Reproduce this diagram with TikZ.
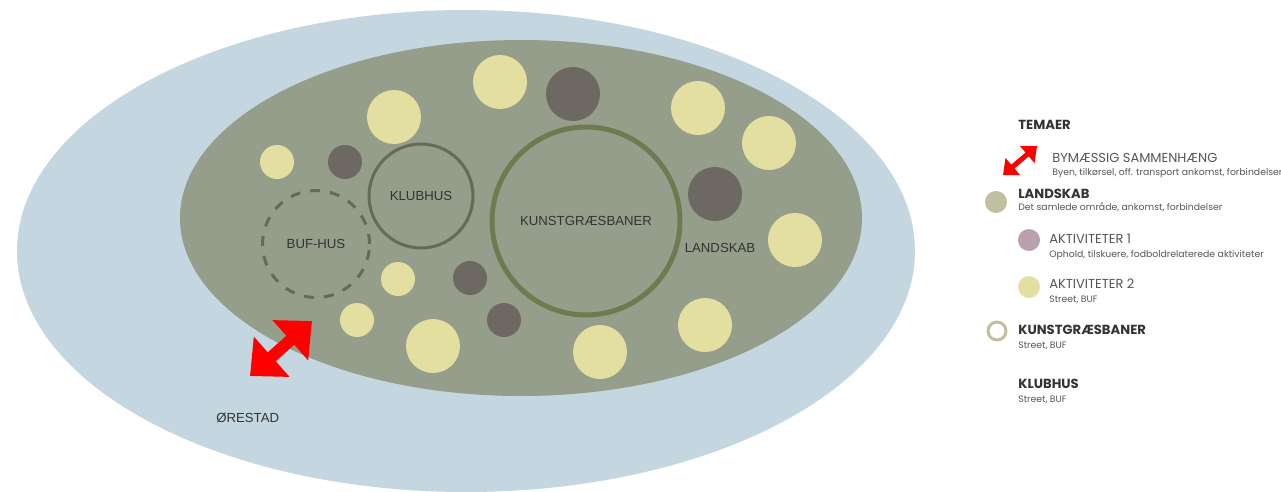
\documentclass[tikz,border=0pt]{standalone}
\usepackage{fontspec}
\setmainfont{Poppins}
\newfontfamily\planfont{Liberation Sans}
\usetikzlibrary{arrows.meta}

\definecolor{byblaa}{HTML}{C4D6DF}
\definecolor{landgroen}{HTML}{949E8B}
\definecolor{aktgul}{HTML}{E3DFA0}
\definecolor{aktbrun}{HTML}{6E6862}
\definecolor{husgroen}{HTML}{5F6E57}
\definecolor{banegroen}{HTML}{6F7A50}
\definecolor{legsand}{HTML}{C0BF9F}
\definecolor{legrosa}{HTML}{B9A0AD}
\definecolor{morktekst}{HTML}{333333}
\definecolor{graatekst}{HTML}{555555}

\begin{document}
\begin{tikzpicture}[
			x=0.02cm, y=-0.02cm,
			every node/.style={text=morktekst},
			line cap=round,
			line join=round,
			planlabel/.style={font=\planfont\fontsize{7.5}{9}\selectfont},
			storprik/.style={circle, inner sep=0pt, minimum size=1.08cm},
			lilleprik/.style={circle, inner sep=0pt, minimum size=0.68cm},
			legprik/.style={circle, inner sep=0pt, minimum size=0.44cm},
			legtitel/.style={anchor=base west, inner sep=0pt, font=\bfseries\fontsize{7.5}{8}\selectfont},
			legnavn/.style={anchor=base west, inner sep=0pt, text=graatekst, font=\fontsize{7.4}{8}\selectfont},
			legtekst/.style={anchor=base west, inner sep=0pt, text=graatekst, font=\fontsize{5.3}{6}\selectfont},
			pil/.style={red, line cap=butt, line width=0.24cm,
				{Triangle[length=0.58cm, width=1.04cm]}-{Triangle[length=0.58cm, width=1.04cm]}},
			lillepil/.style={red, line cap=butt, line width=0.1cm,
				{Triangle[length=0.26cm, width=0.44cm]}-{Triangle[length=0.26cm, width=0.44cm]}}
			]
			\useasboundingbox (0,0) rectangle (1281,491);
			
			% Ellipses
			\fill[byblaa] (466,251) ellipse [x radius=449, y radius=241];
			\fill[landgroen] (521,218) ellipse [x radius=341, y radius=178];
			
			% Aktiviteter 2 (yellow)
			\node[storprik, fill=aktgul] (gul1) at (500,82) {};
			\node[storprik, fill=aktgul] (gul2) at (394,117) {};
			\node[lilleprik, fill=aktgul] (gul3) at (277,162) {};
			\node[storprik, fill=aktgul] (gul4) at (698,108) {};
			\node[storprik, fill=aktgul] (gul5) at (769,143) {};
			\node[storprik, fill=aktgul] (gul6) at (795,240) {};
			\node[lilleprik, fill=aktgul] (gul7) at (398,279) {};
			\node[lilleprik, fill=aktgul] (gul8) at (357,320) {};
			\node[storprik, fill=aktgul] (gul9) at (433,346) {};
			\node[storprik, fill=aktgul] (gul10) at (600,352) {};
			\node[storprik, fill=aktgul] (gul11) at (705,325) {};
			
			% Aktiviteter 1 (dark)
			\node[storprik, fill=aktbrun] (brun1) at (573,94) {};
			\node[lilleprik, fill=aktbrun] (brun2) at (345,162) {};
			\node[storprik, fill=aktbrun] (brun3) at (715,194) {};
			\node[lilleprik, fill=aktbrun] (brun4) at (470,278) {};
			\node[lilleprik, fill=aktbrun] (brun5) at (504,320) {};
			
			% Houses and pitches
			\node[planlabel, circle, draw=husgroen, line width=0.06cm, minimum size=2.08cm]
			(klubhus) at (421,196) {KLUBHUS};
			\node[planlabel, circle, draw=husgroen, line width=0.06cm, dash pattern=on 0.2cm off 0.2cm,
			line cap=butt, minimum size=2.14cm] (bufhus) at (316,244) {BUF-HUS};
			\node[planlabel, circle, draw=banegroen, line width=0.1cm, minimum size=3.76cm]
			(bane) at (586,221) {KUNSTGRÆSBANER};
			\node[planlabel] (landskab) at (720,248) {LANDSKAB};
			\node[planlabel, anchor=west, inner sep=0pt] (orestad) at (216,418) {ØRESTAD};
			
			% Connection to the city
			\coordinate (pilsyd) at (250,376);
			\coordinate (pilnord) at (312,321);
			\draw[pil] (pilsyd) -- (pilnord);
			
			% Legend
			\node[legtitel] (legtema) at (1018,129) {TEMAER};
			
			\coordinate (legpilsyd) at (1003,175);
			\coordinate (legpilnord) at (1037,146);
			\draw[lillepil] (legpilsyd) -- (legpilnord);
			\node[legnavn] (legby) at (1052,162) {BYMÆSSIG SAMMENHÆNG};
			\node[legtekst] (legbytekst) at (1052,175) {Byen, tilkørsel, off. transport ankomst, forbindelser};
			
			\node[legprik, fill=legsand] (legland) at (996,202) {};
			\node[legtitel] (leglandnavn) at (1018,198) {LANDSKAB};
			\node[legtekst] (leglandtekst) at (1018,210) {Det samlede område, ankomst, forbindelser};
			
			\node[legprik, fill=legrosa] (legakt1) at (1029,240) {};
			\node[legnavn] (legakt1navn) at (1049,243) {AKTIVITETER 1};
			\node[legtekst] (legakt1tekst) at (1049,257) {Ophold, tilskuere, fodboldrelaterede aktiviteter};
			
			\node[legprik, fill=aktgul] (legakt2) at (1029,287) {};
			\node[legnavn] (legakt2navn) at (1049,288) {AKTIVITETER 2};
			\node[legtekst] (legakt2tekst) at (1049,302) {Street, BUF};
			
			\node[circle, inner sep=0pt, minimum size=0.36cm, draw=legsand, line width=0.06cm]
			(legbane) at (997,331) {};
			\node[legtitel] (legbanenavn) at (1018,334) {KUNSTGRÆSBANER};
			\node[legtekst] (legbanetekst) at (1018,348) {Street, BUF};
			
			\node[legtitel] (legklub) at (1018,388) {KLUBHUS};
			\node[legtekst] (legklubtekst) at (1018,402) {Street, BUF};
		\end{tikzpicture}
\end{document}
